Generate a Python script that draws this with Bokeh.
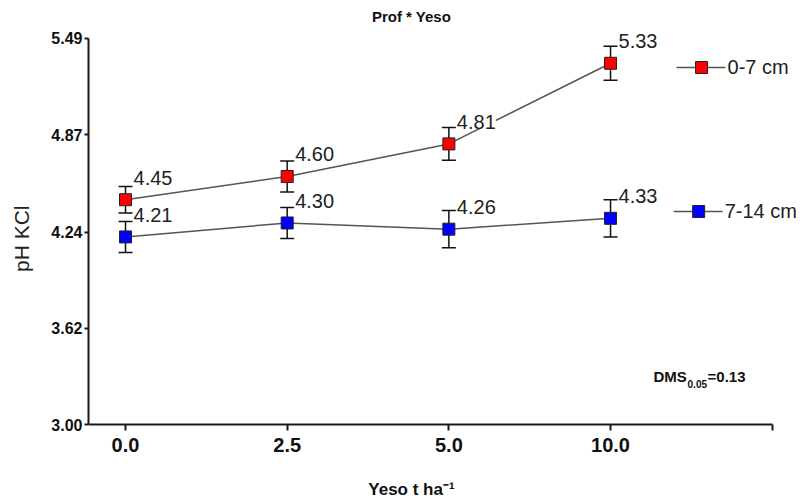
import numpy as np
from bokeh.plotting import figure
from bokeh.models import (ColumnDataSource, Range1d, FixedTicker, Whisker, TeeHead,
                          LabelSet, PrintfTickFormatter)
from bokeh.core.properties import value
from bokeh.embed import file_html
from bokeh.resources import INLINE

# Gypsum doses (t/ha) and soil pH (KCl) at two depths
doses = ["0.0", "2.5", "5.0", "10.0"]
ph_0_7 = [4.45, 4.60, 4.81, 5.33]
ph_7_14 = [4.21, 4.30, 4.26, 4.33]
err_0_7 = [0.085, 0.10, 0.105, 0.11]
err_7_14 = [0.10, 0.10, 0.12, 0.12]
series_names = ["0-7 cm", "7-14 cm"]
y_ticks = [3.00, 3.62, 4.24, 4.87, 5.49]
dms_value = 0.13

FONT_NAME = "Liberation Sans"
FONT = value(FONT_NAME)
NBSP = "\u00a0"
x = np.arange(len(doses))

p = figure(width=800, height=504, output_backend="svg", toolbar_location=None,
           x_range=Range1d(-0.229, 4.175), y_range=Range1d(3.0, 5.735),
           min_border_left=88, min_border_right=0, min_border_top=0,
           min_border_bottom=80)
p.outline_line_color = None
p.xgrid.visible = False
p.ygrid.visible = False
p.background_fill_color = "white"
p.border_fill_color = "white"

# axes
p.xaxis.ticker = FixedTicker(ticks=list(range(len(doses) + 1)))
p.xaxis.major_label_overrides = {i: d for i, d in enumerate(doses)} | {len(doses): ""}
p.xaxis.bounds = (-0.229, len(doses))
p.yaxis.ticker = FixedTicker(ticks=y_ticks)
p.yaxis.formatter = PrintfTickFormatter(format="%.2f")
p.yaxis.bounds = (y_ticks[0], y_ticks[-1])
for ax in (p.xaxis[0], p.yaxis[0]):
    ax.axis_line_width = 2
    ax.axis_line_color = "#1a1a1a"
    ax.major_tick_line_color = "#1a1a1a"
    ax.major_tick_line_width = 2
    ax.major_tick_in = 0
    ax.minor_tick_line_color = None
    ax.major_label_text_font = FONT_NAME
    ax.major_label_text_font_style = "bold"
    ax.major_label_text_color = "#111111"
    ax.axis_label_text_font = FONT_NAME
p.xaxis.major_tick_out = 6
p.xaxis.major_label_text_font_size = "20px"
p.xaxis.major_label_standoff = 7
p.yaxis.major_tick_out = 4
p.yaxis.major_label_text_font_size = "16px"
p.yaxis.major_label_standoff = 2

# axis titles; trailing no-break spaces nudge them off the frame centre
p.xaxis.axis_label = "Yeso t ha\u207b\u00b9" + NBSP * 14
p.xaxis.axis_label_text_font_size = "17px"
p.xaxis.axis_label_text_font_style = "bold"
p.xaxis.axis_label_text_color = "#111111"
p.xaxis.axis_label_standoff = 25
p.yaxis.axis_label = "pH KCl" + NBSP * 9
p.yaxis.axis_label_text_font_size = "21px"
p.yaxis.axis_label_text_font_style = "normal"
p.yaxis.axis_label_text_color = "#222222"
p.yaxis.axis_label_standoff = 15

colors = ["#ff0000", "#0000ff"]
for vals, errs, col in ((ph_0_7, err_0_7, colors[0]), (ph_7_14, err_7_14, colors[1])):
    src = ColumnDataSource(dict(
        x=x, y=vals,
        upper=[v + e for v, e in zip(vals, errs)],
        lower=[v - e for v, e in zip(vals, errs)],
        label=[f"{v:.2f}" for v in vals],
    ))
    p.line("x", "y", source=src, line_color="#555555", line_width=1.5)
    p.add_layout(Whisker(base="x", upper="upper", lower="lower", source=src,
                         line_color="#111111", line_width=1.5,
                         upper_head=TeeHead(size=14, line_color="#111111", line_width=1.5),
                         lower_head=TeeHead(size=14, line_color="#111111", line_width=1.5)))
    p.scatter("x", "y", source=src, marker="square", size=12,
              fill_color=col, line_color="#222222", line_width=1)
    p.add_layout(LabelSet(x="x", y="y", text="label", source=src,
                          x_offset=8, y_offset=22, text_baseline="middle",
                          text_font=FONT, text_font_size=value("20px"),
                          text_color=value("#222222"),
                          background_fill_color="white"))

# legend entries beside each series
for name, col, lx, ly in zip(series_names, colors, (3.408, 3.39), (5.303, 4.374)):
    p.line([lx, lx + 0.303], [ly, ly], line_color="#555555", line_width=1.5)
    p.scatter([lx + 0.155], [ly], marker="square", size=12, fill_color=col,
              line_color="#222222", line_width=1)
    p.text([lx + 0.316], [ly], text=[name], text_font=FONT, text_font_size="20px",
           text_baseline="middle", text_color="#222222")

# title
p.text([1.769], [5.632], text=["Prof * Yeso"], text_font=FONT, text_font_size="15px",
       text_font_style="bold", text_align="center", text_baseline="middle",
       text_color="#111111")

# least significant difference note
p.text([3.266], [3.252], text=["DMS"], text_font=FONT, text_font_size="15px",
       text_font_style="bold", text_color="#111111")
p.text([3.266], [3.252], text=["0.05"], x_offset=34, y_offset=3, text_font=FONT,
       text_font_size="10px", text_font_style="bold", text_color="#111111")
p.text([3.266], [3.252], text=[f"={dms_value:.2f}"], x_offset=54, text_font=FONT,
       text_font_size="15px", text_font_style="bold", text_color="#111111")

open("out.html", "w").write(file_html(p, INLINE))
